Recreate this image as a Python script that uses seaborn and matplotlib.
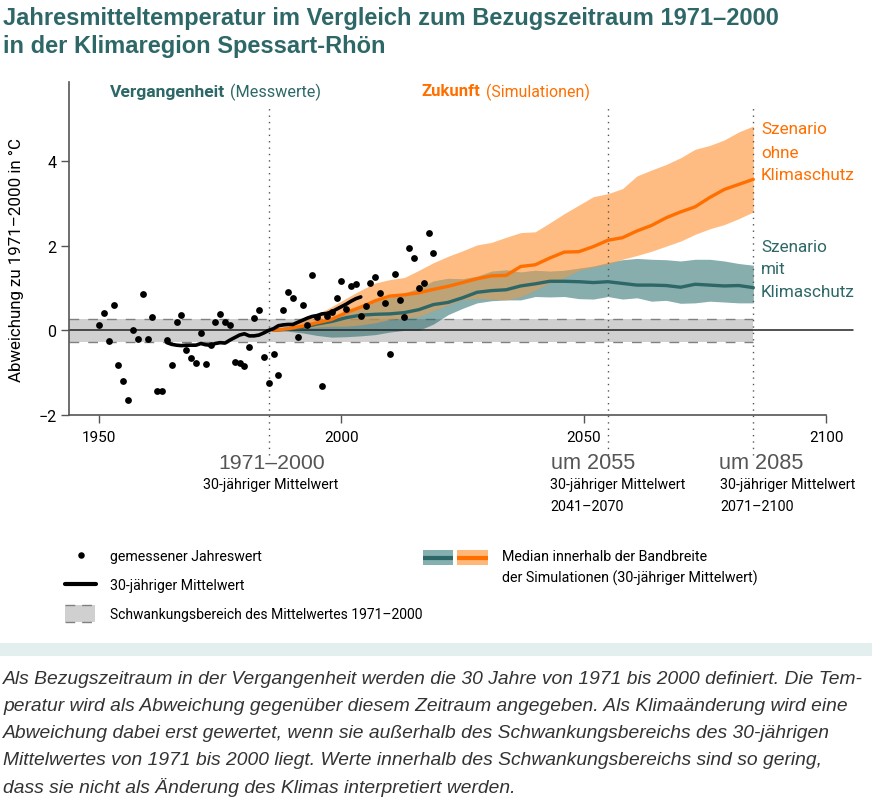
"""
Jahresmitteltemperatur Spessart-Rhoen: Messwerte und Simulationen
"""

import numpy as np
import pandas as pd
import matplotlib
matplotlib.use("Agg")
import matplotlib.pyplot as plt
from matplotlib.patches import Rectangle
import seaborn as sns

# measured yearly values
years_obs = list(range(1950, 2020))
temp_obs = [0.13, 0.42, -0.25, 0.61, -0.82, -1.20, -1.65, 0.01, -0.21, 0.86,
            -0.21, 0.31, -1.43, -1.43, -0.23, -0.83, 0.20, 0.37, -0.46, -0.65,
            -0.76, -0.06, -0.79, -0.35, 0.19, 0.39, 0.19, 0.13, -0.75, -0.76,
            -0.84, -0.40, 0.29, 0.49, -0.64, -1.24, -0.57, -1.06, 0.48, 0.90,
            0.77, -0.16, 0.60, 0.13, 1.31, 0.32, -1.31, 0.35, 0.43, 0.77,
            1.17, 0.50, 1.04, 1.09, 0.33, 0.57, 1.11, 1.27, 0.89, 0.65,
            -0.55, 1.34, 0.72, 0.31, 1.95, 1.71, 0.99, 1.12, 2.29, 1.83]

# 30-year running mean of the measurements
years_mean = list(range(1964, 2005))
temp_mean = [-0.29, -0.33, -0.35, -0.36, -0.35, -0.35, -0.35, -0.31, -0.34, -0.35,
             -0.31, -0.29, -0.30, -0.23, -0.17, -0.11, -0.08, -0.13, -0.13, -0.11,
             -0.06, 0.00, 0.04, 0.11, 0.13, 0.14, 0.14, 0.19, 0.24, 0.29,
             0.33, 0.35, 0.39, 0.40, 0.44, 0.50, 0.56, 0.62, 0.69, 0.75, 0.79]

# simulations
years_sim = [1986, 1989, 1992, 1995, 1998, 2001, 2004, 2007, 2010, 2013, 2016, 2019,
             2022, 2025, 2028, 2031, 2034, 2037, 2040, 2043, 2046, 2049, 2052, 2055,
             2058, 2061, 2064, 2067, 2070, 2073, 2076, 2079, 2082, 2085]
ohne_upper = [0.00, 0.08, 0.22, 0.38, 0.56, 0.76, 0.95, 1.12, 1.20, 1.25, 1.42, 1.60,
              1.75, 1.88, 2.02, 2.08, 2.20, 2.31, 2.33, 2.54, 2.76, 2.96, 3.16, 3.23,
              3.35, 3.65, 3.79, 3.92, 4.08, 4.28, 4.37, 4.50, 4.69, 4.83]
ohne_lower = [0.00, 0.02, 0.05, 0.08, 0.10, 0.10, 0.13, 0.18, 0.26, 0.29, 0.33, 0.47,
              0.60, 0.73, 0.76, 0.74, 0.72, 0.80, 0.95, 1.13, 1.25, 1.42, 1.50, 1.56,
              1.68, 1.77, 1.87, 1.99, 2.11, 2.27, 2.40, 2.50, 2.64, 2.80]
ohne_median = [0.00, 0.04, 0.10, 0.18, 0.26, 0.42, 0.55, 0.70, 0.81, 0.84, 0.89, 0.97,
               1.04, 1.13, 1.22, 1.29, 1.30, 1.51, 1.55, 1.71, 1.85, 1.86, 1.98, 2.13,
               2.19, 2.35, 2.48, 2.66, 2.80, 2.92, 3.14, 3.33, 3.45, 3.57]
mit_upper = [0.00, 0.05, 0.12, 0.20, 0.33, 0.46, 0.58, 0.68, 0.78, 0.88, 1.00, 1.17,
             1.23, 1.22, 1.28, 1.40, 1.43, 1.38, 1.42, 1.40, 1.42, 1.47, 1.52, 1.60,
             1.67, 1.70, 1.68, 1.67, 1.64, 1.68, 1.68, 1.64, 1.58, 1.54]
mit_lower = [0.00, -0.02, -0.06, -0.12, -0.16, -0.15, -0.13, -0.10, -0.04, 0.00, 0.00, 0.15,
             0.37, 0.52, 0.65, 0.70, 0.72, 0.72, 0.80, 0.79, 0.80, 0.75, 0.74, 0.80,
             0.74, 0.77, 0.69, 0.71, 0.64, 0.65, 0.69, 0.67, 0.65, 0.65]
mit_median = [0.00, 0.03, 0.07, 0.15, 0.21, 0.30, 0.36, 0.38, 0.39, 0.42, 0.49, 0.61,
              0.66, 0.77, 0.90, 0.94, 0.96, 1.05, 1.10, 1.16, 1.16, 1.15, 1.13, 1.15,
              1.11, 1.07, 1.07, 1.06, 1.02, 1.09, 1.07, 1.05, 1.06, 1.01]

x_ticks = [1950, 2000, 2050, 2100]
y_ticks = [-2, 0, 2, 4]
y_tick_labels = ["\u22122", "0", "2", "4"]
band_limit = 0.27
ref_years = [1985, 2055, 2085]

title_lines = ["Jahresmitteltemperatur im Vergleich zum Bezugszeitraum 1971\u20132000",
               "in der Klimaregion Spessart-Rh\u00f6n"]
note_lines = ["Als Bezugszeitraum in der Vergangenheit werden die 30 Jahre von 1971 bis 2000 definiert. Die Tem-",
              "peratur wird als Abweichung gegen\u00fcber diesem Zeitraum angegeben. Als Klima\u00e4nderung wird eine",
              "Abweichung dabei erst gewertet, wenn sie au\u00dferhalb des Schwankungsbereichs des 30-j\u00e4hrigen",
              "Mittelwertes von 1971 bis 2000 liegt. Werte innerhalb des Schwankungsbereichs sind so gering,",
              "dass sie nicht als \u00c4nderung des Klimas interpretiert werden."]

TEAL = "#2E6767"
ORANGE = "#FF6F00"
NARROW = ["Liberation Sans Narrow", "Roboto", "DejaVu Sans"]
W, H = 891, 803

sns.set_theme(style="ticks")
plt.rcParams["font.family"] = NARROW

fig = plt.figure(figsize=(W / 100, H / 100), dpi=100)
ax = fig.add_axes([69 / W, 1 - 416 / H, (826 - 69) / W, (416 - 83) / H])

# overlay in pixel coordinates for texts and the legend
page = fig.add_axes([0, 0, 1, 1], zorder=5)
page.set_xlim(0, W)
page.set_ylim(H, 0)
page.axis("off")
page.patch.set_alpha(0)

ax.set_xlim(1943.8, 2100)
ax.set_ylim(-2, 5.87)

# grey range of the reference period
ax.fill_between([1943.8, 2085], -band_limit, band_limit, color="#D0D0D0", lw=0, zorder=1)
ax.plot([1943.8, 2085], [band_limit, band_limit], color="#808080", lw=1, dashes=(7, 6.5), zorder=1.5)
ax.plot([1943.8, 2085], [-band_limit, -band_limit], color="#808080", lw=1, dashes=(7, 6.5), zorder=1.5)

# simulation ranges, the overlap gets one more layer to mute the brown
ax.fill_between(years_sim, mit_lower, mit_upper, color="#1F6464", alpha=0.53, lw=0, zorder=2)
ax.fill_between(years_sim, ohne_lower, ohne_upper, color="#FF7F0F", alpha=0.52, lw=0, zorder=2.1)
overlap_low = np.maximum(ohne_lower, mit_lower)
overlap_high = np.minimum(ohne_upper, mit_upper)
ax.fill_between(years_sim, overlap_low, overlap_high, where=overlap_high >= overlap_low,
                interpolate=True, color="#A8CEC9", alpha=0.25, lw=0, zorder=2.2)

ax.plot([1943.8, 2105.5], [0, 0], color="#222222", lw=1.1, clip_on=False, zorder=2.5)

for yr in ref_years:
    ax.plot([yr, yr], [-2.95, 5.3], color="#555555", lw=1.0, dashes=(1, 3.6), clip_on=False, zorder=2.6)

sim = pd.DataFrame({"year": years_sim, "ohne": ohne_median, "mit": mit_median})
sns.lineplot(data=sim, x="year", y="mit", color=TEAL, lw=2.4, ax=ax, zorder=3)
sns.lineplot(data=sim, x="year", y="ohne", color=ORANGE, lw=2.4, ax=ax, zorder=3.1)

obs = pd.DataFrame({"year": years_obs, "temp": temp_obs})
sns.scatterplot(data=obs, x="year", y="temp", color="black", s=24, linewidth=0, ax=ax, zorder=4, clip_on=False)
sns.lineplot(x=years_mean, y=temp_mean, color="black", lw=2.6, ax=ax, zorder=4.1)

ax.set_xticks(x_ticks)
ax.set_yticks(y_ticks)
ax.set_yticklabels(y_tick_labels)
ax.set_xlabel("")
ax.set_ylabel("")
ax.tick_params(axis="x", length=6, width=1, color="#555555", labelsize=11, labelcolor="black", pad=5)
ax.tick_params(axis="y", length=6, width=1, color="#555555", labelsize=11.5, labelcolor="black", pad=3)
for side in ["top", "right"]:
    ax.spines[side].set_visible(False)
for side in ["left", "bottom"]:
    ax.spines[side].set_color("#555555")
    ax.spines[side].set_linewidth(1.2)


def put(x, y, s, size=10.5, color="black", weight="normal", style="normal", family=None, **kw):
    page.text(x, y, s, fontsize=size, color=color, fontweight=weight, fontstyle=style,
              family=family or NARROW, va="center", **kw)


# title and note
put(3, 18, title_lines[0], size=17.05, color=TEAL, weight="bold", family="Liberation Sans")
put(3, 47, title_lines[1], size=17.05, color=TEAL, weight="bold", family="Liberation Sans")
for i, line in enumerate(note_lines):
    put(3, 680 + i * 27, line, size=13.9, color="#333333", style="italic", family="Liberation Sans")
page.add_patch(Rectangle((0, 644), 872, 13, color="#E3EFEE", lw=0))

# headings inside the chart
put(110, 92, "Vergangenheit", size=12.6, color=TEAL, weight="bold")
put(230, 92, "(Messwerte)", size=11.7, color=TEAL)
put(421, 92, "Zukunft", size=12, color=ORANGE, weight="bold")
put(486, 92, "(Simulationen)", size=11.4, color=ORANGE)

for y, s in zip([129, 153, 176], ["Szenario", "ohne", "Klimaschutz"]):
    put(761, y, s, size=12.3, color=ORANGE)
for y, s in zip([247, 270, 293], ["Szenario", "mit", "Klimaschutz"]):
    put(761, y, s, size=12.3, color=TEAL)

put(16, 260, "Abweichung zu 1971\u20132000 in \u00b0C", size=12.2, rotation=90, ha="center")

# period labels below the axis
put(218, 464, "1971\u20132000", size=15.3, color="#555555", family="Liberation Sans")
put(551, 464, "um 2055", size=15.6, color="#555555", family="Liberation Sans")
put(719, 464, "um 2085", size=15.6, color="#555555", family="Liberation Sans")
put(203, 485, "30-j\u00e4hriger Mittelwert", size=10.3)
put(550, 485, "30-j\u00e4hriger Mittelwert", size=10.3)
put(720, 485, "30-j\u00e4hriger Mittelwert", size=10.3)
put(550, 507, "2041\u20132070", size=10.3)
put(720, 507, "2071\u20132100", size=10.3)

# legend
page.scatter([81], [556], s=22, color="black", linewidths=0)
page.plot([65, 96], [585, 585], color="black", lw=3)
page.add_patch(Rectangle((65, 606), 30, 17, color="#D0D0D0", lw=0))
page.plot([65, 95], [606, 606], color="#808080", lw=1, dashes=(7, 5))
page.plot([65, 95], [623, 623], color="#808080", lw=1, dashes=(7, 5))
put(110, 557, "gemessener Jahreswert", size=10.2)
put(110, 586, "30-j\u00e4hriger Mittelwert", size=10.2)
put(110, 615, "Schwankungsbereich des Mittelwertes 1971\u20132000", size=10)

page.add_patch(Rectangle((423, 551), 30, 15, color="#86B0B0", lw=0))
page.add_patch(Rectangle((457, 551), 31, 15, color="#FFB87A", lw=0))
page.plot([423, 453], [558.5, 558.5], color=TEAL, lw=3, solid_capstyle="butt")
page.plot([457, 488], [558.5, 558.5], color=ORANGE, lw=3, solid_capstyle="butt")
put(502, 557, "Median innerhalb der Bandbreite", size=10.3)
put(502, 578, "der Simulationen (30-j\u00e4hriger Mittelwert)", size=10.3)

fig.savefig("out.png", dpi=100)
